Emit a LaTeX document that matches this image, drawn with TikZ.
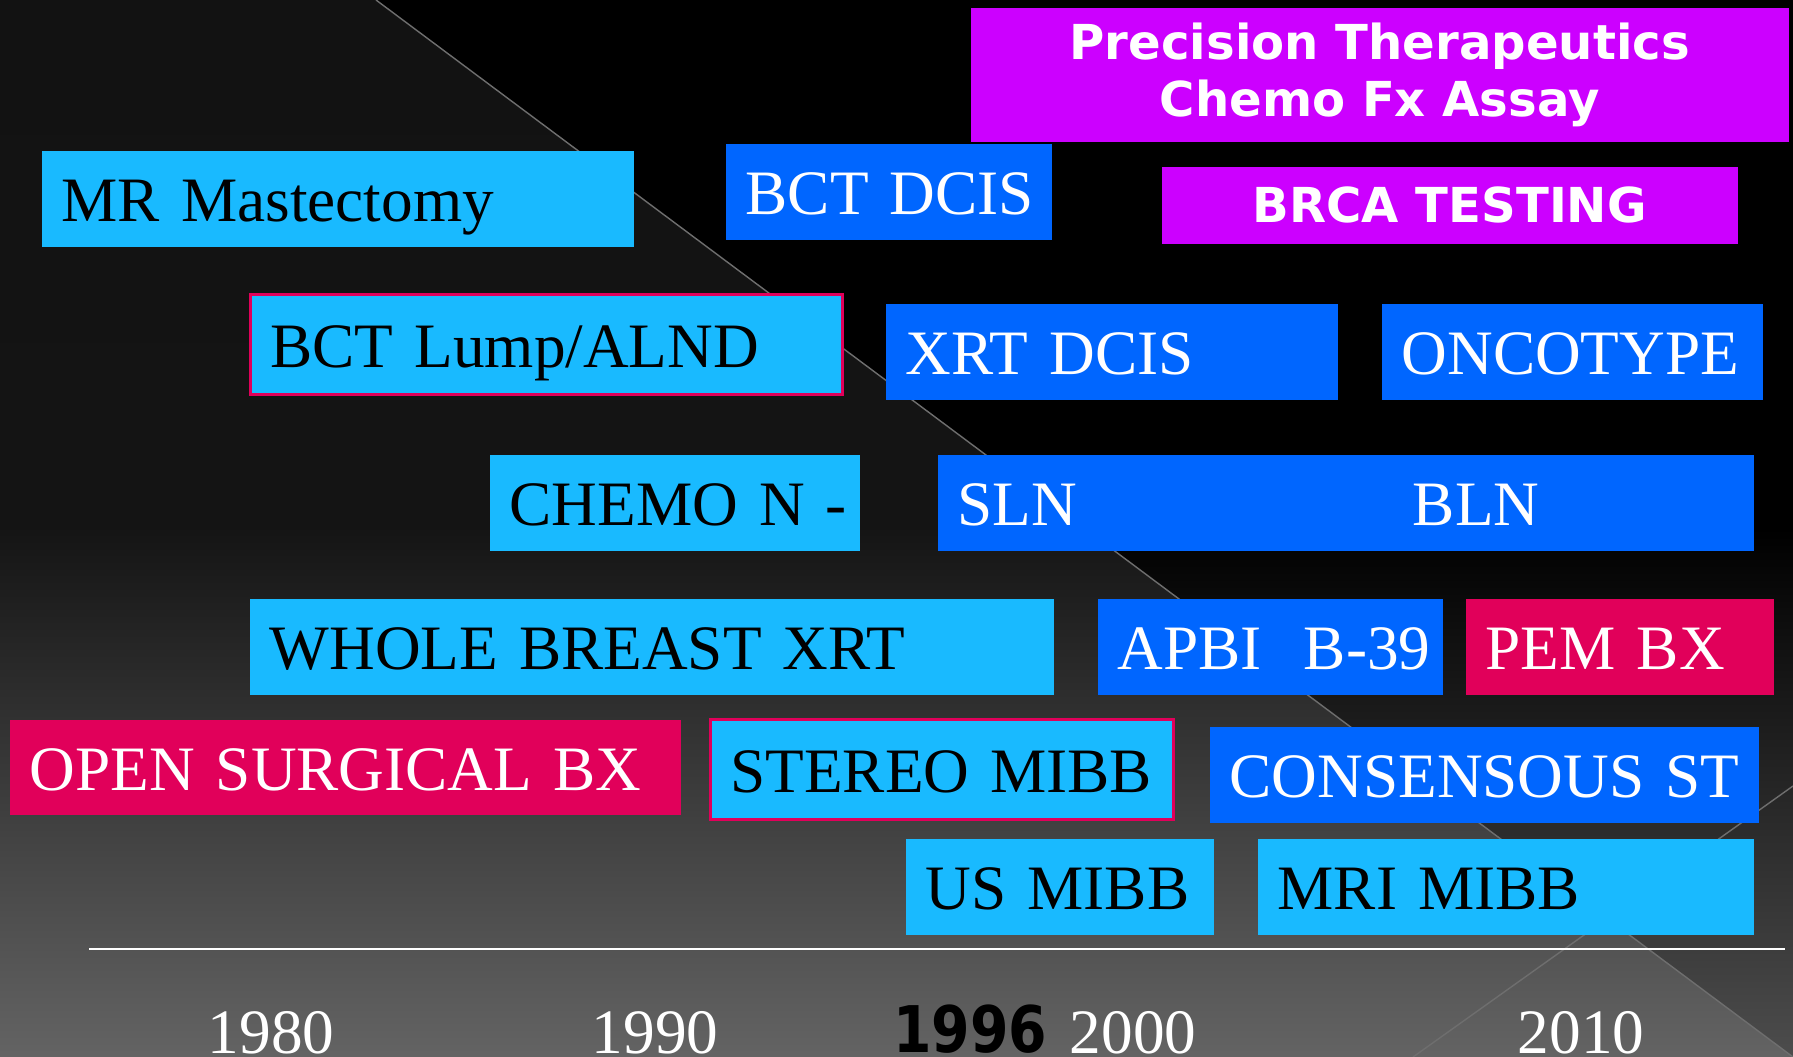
\documentclass[tikz,border=0pt]{standalone}
\usepackage{fontspec}
\setmainfont{Liberation Serif}
\newfontfamily\bannersans{DejaVu Sans}
\newfontfamily\yearsans[FakeStretch=0.86]{DejaVu Sans}
\usetikzlibrary{positioning}
\definecolor{skyc}{HTML}{19BAFF}
\definecolor{bluec}{HTML}{0066FF}
\definecolor{redc}{HTML}{E1005A}
\definecolor{purplec}{HTML}{CC00FF}
\definecolor{raygray}{HTML}{6E6E6E}

\begin{document}
\begin{tikzpicture}[
        span/.style={anchor=north west, inner xsep=0pt, inner ysep=0pt, align=left,
                     text height=15pt, text depth=2pt, font=\fontsize{18}{21}\selectfont,
                     execute at begin node={\hspace*{0.2cm}}},
        size/.style 2 args={minimum width=#1cm, minimum height=#2cm, text width=#1cm},
        sky/.style={span, fill=skyc, text=black},
        deep/.style={span, fill=bluec, text=white},
        alert/.style={span, fill=redc, text=white},
        edged/.style={draw=redc, line width=0.8pt},
        assay/.style={anchor=north west, fill=purplec, text=white, align=center, inner sep=0pt,
                      font=\bannersans\bfseries\fontsize{13.7}{16.2}\selectfont},
        year/.style={anchor=base, text=white, font=\fontsize{18}{21}\selectfont},
        ray/.style={draw=raygray, line width=0.4pt}
    ]
    \useasboundingbox (0,0) rectangle (17.93,-10.57);

    % background: dark slide with two diagonal rays
    \coordinate (diagA) at (3.76,0);
    \coordinate (diagB) at (17.93,-10.57);
    \coordinate (crossA) at (17.93,-7.86);
    \coordinate (crossB) at (14.13,-10.57);

    \fill[top color=black, bottom color=black!70!white, middle color=black] (0,0) rectangle (17.93,-10.57);
    \fill[top color=black!93!white, bottom color=black!61!white, middle color=black!92!white]
        (0,0) -- (diagA) -- (diagB) -- (0,-10.57) -- cycle;
    \draw[ray] (diagA) -- (diagB);
    \draw[ray] (crossA) -- (crossB);

    % \node[sky, size={5.92}{0.96}] (test) at (0,0) {};
    \node[assay, minimum width=8.18cm, minimum height=1.34cm] (precision) at (9.70,-0.07)
        {Precision Therapeutics\\Chemo Fx Assay};
    \node[assay, minimum width=5.76cm, minimum height=0.77cm] (brca) at (11.61,-1.66) {BRCA TESTING};

    \node[sky, size={5.92}{0.96}] (mrmast) at (0.41,-1.50) {MR Mastectomy};
    \node[deep, size={3.26}{0.96}] (bctdcis) at (7.25,-1.43) {BCT DCIS};

    \node[sky, edged, size={5.92}{1.00}] (bctlump) at (2.49,-2.93) {BCT Lump/ALND};
    \node[deep, size={4.52}{0.96}] (xrtdcis) at (8.85,-3.03) {XRT DCIS};
    \node[deep, size={3.81}{0.96}] (oncotype) at (13.81,-3.03) {ONCOTYPE};

    \node[sky, size={3.70}{0.96}] (chemo) at (4.89,-4.54) {CHEMO N -};
    \node[deep, size={8.16}{0.96}] (slnbln) at (9.37,-4.54) {SLN\hspace{95.5pt}BLN};

    \node[sky, size={8.04}{0.96}] (wbxrt) at (2.49,-5.98) {WHOLE BREAST XRT};
    \node[deep, size={3.45}{0.96}] (apbi) at (10.97,-5.98) {APBI\ \ B-39};
    \node[alert, size={3.08}{0.96}] (pembx) at (14.65,-5.98) {PEM BX};

    \node[alert, size={6.71}{0.95}] (openbx) at (0.09,-7.19) {OPEN SURGICAL BX};
    \node[sky, edged, size={4.63}{1.00}] (stereo) at (7.09,-7.18) {STEREO MIBB};
    \node[deep, size={5.49}{0.96}] (consensus) at (12.09,-7.26) {CONSENSOUS ST};

    \node[sky, size={3.08}{0.96}] (usmibb) at (9.05,-8.38) {US MIBB};
    \node[sky, size={4.96}{0.96}] (mrimibb) at (12.57,-8.38) {MRI MIBB};

    % time axis
    \coordinate (axisL) at (0.89,-9.49);
    \coordinate (axisR) at (17.85,-9.49);
    \draw[white, line width=0.8pt] (axisL) -- (axisR);

    \node[year] (y1980) at (2.71,-10.53) {1980};
    \node[year] (y1990) at (6.55,-10.53) {1990};
    \node[year, text=black, font=\yearsans\bfseries\fontsize{18.3}{20}\selectfont] (y1996) at (9.70,-10.52) {1996};
    \node[year] (y2000) at (11.33,-10.53) {2000};
    \node[year] (y2010) at (15.81,-10.53) {2010};
\end{tikzpicture}
\end{document}
